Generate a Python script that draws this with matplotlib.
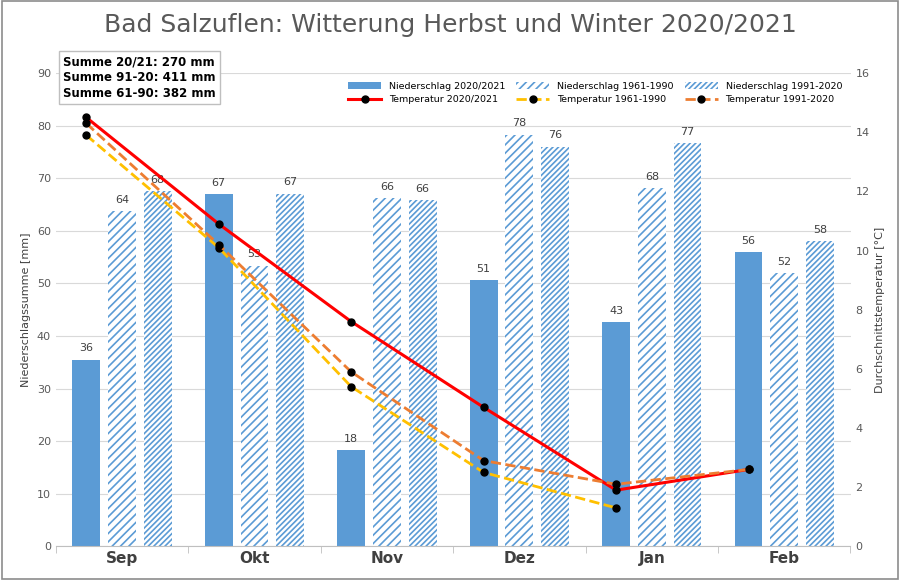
import numpy as np
import matplotlib.pyplot as plt
from matplotlib.patches import Rectangle

# ── Data ───────────────────────────────────────────────────────────────────────
months     = ["Sep", "Okt", "Nov", "Dez", "Jan", "Feb"]
rain_2021  = [35.5, 67, 18.3, 50.6, 42.7, 56]
rain_6190  = [63.8, 53.4, 66.2, 78.3, 68.1, 52]
rain_9120  = [67.6, 67.1, 65.9, 76, 76.7, 58]
temp_2021  = [14.5, 10.9, 7.6, 4.7, 1.9, 2.6]
temp_6190  = [13.9, 10.1, 5.4, 2.5, 1.3]
temp_9120  = [14.3, 10.2, 5.9, 2.9, 2.1, 2.6]
summen     = ["Summe 20/21: 270 mm", "Summe 91-20: 411 mm", "Summe 61-90: 382 mm"]

BLUE = "#5b9bd5"

fig = plt.figure(figsize=(9, 5.8), dpi=100)
fig.patches.append(Rectangle((0.002, 0.002), 0.996, 0.996, transform=fig.transFigure,
                             fill=False, edgecolor="#8c8c8c", lw=1.2))
ax = fig.add_axes([0.062, 0.058, 0.883, 0.816])
ax2 = ax.twinx()

x = np.arange(len(months))
w = 0.21
off = 0.27
plt.rcParams["hatch.linewidth"] = 1.2

b1 = ax.bar(x - off, rain_2021, w, color=BLUE, label="Niederschlag 2020/2021")
b2 = ax.bar(x, rain_6190, w, color="white", edgecolor=BLUE, hatch="////", lw=0,
            label="Niederschlag 1961-1990")
b3 = ax.bar(x + off, rain_9120, w, color="white", edgecolor=BLUE, hatch="//////", lw=0,
            label="Niederschlag 1991-2020")
for bars, vals in [(b1, rain_2021), (b2, rain_6190), (b3, rain_9120)]:
    for b, v in zip(bars, vals):
        ax.text(b.get_x() + b.get_width() / 2, v + 1.2, f"{v:.0f}", ha="center", va="bottom",
                fontsize=8, color="#404040")

tx = x - off
l1, = ax2.plot(tx, temp_2021, color="#ff0000", lw=2.2, marker="o", mfc="black", mec="black",
               ms=5, label="Temperatur 2020/2021")
l2, = ax2.plot(tx[:len(temp_6190)], temp_6190, color="#ffc000", lw=2, ls="--", marker="o",
               mfc="black", mec="black", ms=5, label="Temperatur 1961-1990")
l3, = ax2.plot(tx, temp_9120, color="#ed7d31", lw=2, ls="--", marker="o", mfc="black",
               mec="black", ms=5, label="Temperatur 1991-2020")

ax.set_ylim(0, 90)
ax.set_yticks(range(0, 91, 10))
ax2.set_ylim(0, 16)
ax2.set_yticks(range(0, 17, 2))
ax.set_xlim(-0.5, 5.5)
ax.set_xticks(x)
ax.set_xticklabels(months, fontsize=11, fontweight="bold", color="#404040")
ax.set_xticks(np.arange(-0.5, 6, 1), minor=True)
ax.tick_params(axis="x", which="major", length=0)
ax.tick_params(axis="x", which="minor", length=5, color="#bfbfbf")
for a in (ax, ax2):
    a.tick_params(axis="y", length=0, labelsize=8, labelcolor="#595959")
    for s in a.spines.values():
        s.set_visible(False)
ax.spines["bottom"].set_visible(True)
ax.spines["bottom"].set_color("#bfbfbf")
ax.yaxis.grid(True, color="#d9d9d9", lw=0.8)
ax.set_axisbelow(True)
ax.set_zorder(ax2.get_zorder() - 1)
ax.patch.set_visible(False)

ax.set_ylabel("Niederschlagssumme [mm]", fontsize=8, color="#404040")
ax2.set_ylabel("Durchschnittstemperatur [°C]", fontsize=8, color="#404040")
fig.suptitle("Bad Salzuflen: Witterung Herbst und Winter 2020/2021", fontsize=18,
             color="#595959", y=0.978)

ax2.legend(handles=[b1, l1, b2, l2, b3, l3], ncol=3, loc="upper right", fontsize=6.8,
           frameon=False, bbox_to_anchor=(1.0, 1.0), columnspacing=1.2, handlelength=3.5)

fig.text(0.07, 0.905, "\n".join(summen), fontsize=8.5, fontweight="bold", va="top",
         linespacing=1.3,
         bbox=dict(boxstyle="square,pad=0.35", fc="white", ec="#bfbfbf"))

fig.savefig("out.png", dpi=100)
